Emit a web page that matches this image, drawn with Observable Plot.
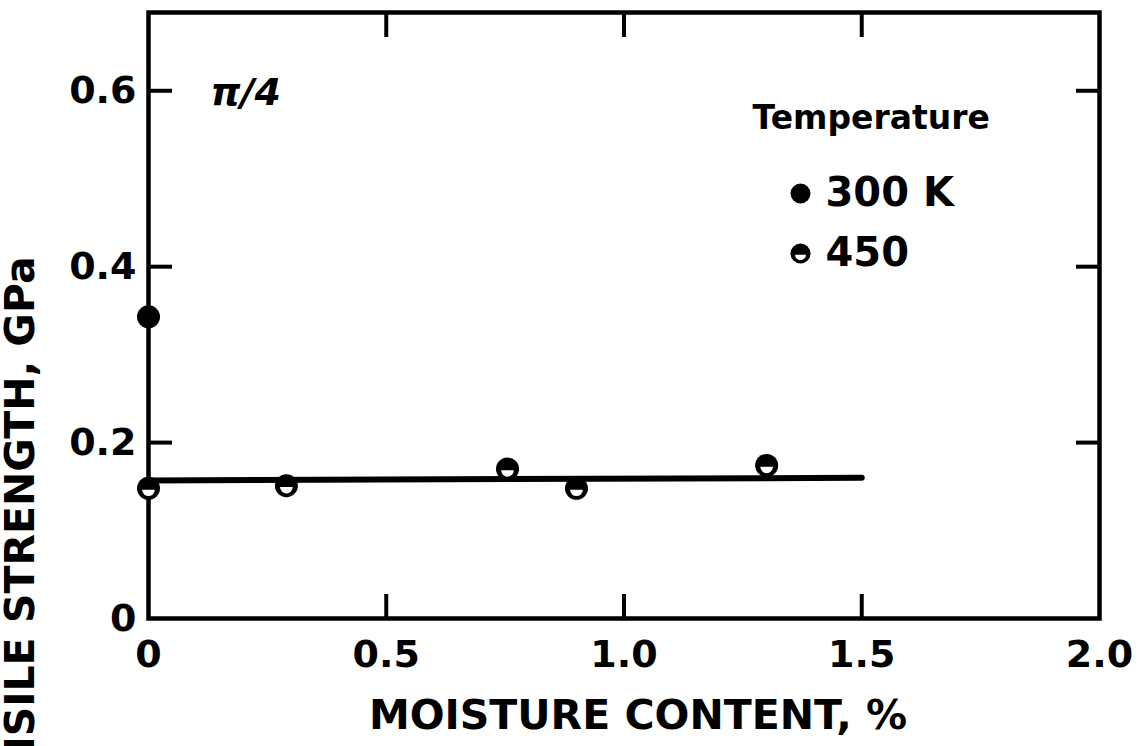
<!DOCTYPE html>
<html><head><meta charset="utf-8">
<script src="https://cdn.jsdelivr.net/npm/d3@7"></script>
<script src="https://cdn.jsdelivr.net/npm/@observablehq/plot@0.6"></script>
<style>html,body{margin:0;padding:0;background:#fff;overflow:hidden} svg{display:block}</style>
</head><body><div id="chart"></div>
<script>
// ---- data ----
const xTickValues = [0, 0.5, 1.0, 1.5, 2.0];
const xTickLabels = ["0", "0.5", "1.0", "1.5", "2.0"];
const xInnerTicks = [0.5, 1.0, 1.5];
const yTickValues = [0, 0.2, 0.4, 0.6];
const yTickLabels = ["0", "0.2", "0.4", "0.6"];
const yInnerTicks = [0.2, 0.4, 0.6];

const moisture300K = [0];
const strength300K = [0.343];
const moisture450K = [0, 0.29, 0.755, 0.90, 1.30];
const strength450K = [0.148, 0.151, 0.170, 0.148, 0.174];
const fitMoisture = [0, 1.5];
const fitStrength = [0.157, 0.160];

const legendTitle = "Temperature";
const legendLabels = ["300 K", "450"];
const panelLabel = "π/4";
const xTitle = "MOISTURE CONTENT, %";
const yTitle = "TENSILE STRENGTH, GPa";

// ---- build tables ----
const pts300 = moisture300K.map((x, i) => ({x, y: strength300K[i]}));
const pts450 = moisture450K.map((x, i) => ({x, y: strength450K[i]}));
const fit = fitMoisture.map((x, i) => ({x, y: fitStrength[i]}));

// lower half-disk "hole" symbol for the 450 K markers
const halfHole = {
  draw(ctx, size) {
    const r = Math.sqrt(size / Math.PI);
    const h = r * 0.55, c = r * 0.12;
    ctx.moveTo(h, c);
    ctx.arc(0, c, h, 0, Math.PI);
    ctx.closePath();
  }
};

const font = "DejaVu Sans";
const W = 1146, H = 746;
const mL = 148, mR = 47, mT = 12, mB = 128;

const chart = Plot.plot({
  width: W, height: H,
  marginLeft: mL, marginRight: mR, marginTop: mT, marginBottom: mB,
  style: {fontFamily: font, fontWeight: "bold", color: "#000", background: "#fff"},
  x: {domain: [0, 2.0]},
  y: {domain: [0, 0.689]},
  marks: [
    // inward ticks on all four sides
    Plot.axisX(xInnerTicks, {anchor: "bottom", tickSize: -24, strokeWidth: 4, tickFormat: () => "", label: null}),
    Plot.axisX(xInnerTicks, {anchor: "top", tickSize: -24, strokeWidth: 4, tickFormat: () => "", label: null}),
    Plot.axisY(yInnerTicks, {anchor: "left", tickSize: -24, strokeWidth: 4, tickFormat: () => "", label: null}),
    Plot.axisY(yInnerTicks, {anchor: "right", tickSize: -24, strokeWidth: 4, tickFormat: () => "", label: null}),
    // tick labels
    Plot.axisX(xTickValues, {anchor: "bottom", tickSize: 0, tickPadding: 22, fontSize: 38, fontWeight: "bold",
      tickFormat: d => xTickLabels[xTickValues.indexOf(d)], label: null}),
    Plot.axisY(yTickValues, {anchor: "left", tickSize: 0, tickPadding: 12, fontSize: 38, fontWeight: "bold",
      tickFormat: d => yTickLabels[yTickValues.indexOf(d)], label: null}),
    Plot.frame({stroke: "#000", strokeWidth: 4.5}),
    // axis titles
    Plot.text([xTitle], {frameAnchor: "bottom", dx: 14, dy: 97, fontSize: 41, fontWeight: "bold", lineAnchor: "middle", textAnchor: "middle"}),
    Plot.text([yTitle], {frameAnchor: "left", rotate: -90, dx: -128, dy: 226, fontSize: 41, fontWeight: "bold", lineAnchor: "middle", textAnchor: "middle"}),
    // fitted line
    Plot.line(fit, {x: "x", y: "y", stroke: "#000", strokeWidth: 6}),
    // data
    Plot.dot(pts300, {x: "x", y: "y", r: 11.5, fill: "#000", stroke: null}),
    Plot.dot(pts450, {x: "x", y: "y", r: 11.5, fill: "#000", stroke: null}),
    Plot.dot(pts450, {x: "x", y: "y", r: 11.5, fill: "#fff", stroke: null, symbol: halfHole}),
    // panel label
    Plot.text([panelLabel], {frameAnchor: "top-left", dx: 62, dy: 80, textAnchor: "start", fontSize: 38, fontWeight: "bold", fontStyle: "italic", lineAnchor: "middle"}),
    // legend
    Plot.text([legendTitle], {frameAnchor: "top-left", dx: 604, dy: 106, textAnchor: "start", fontSize: 33, fontWeight: "bold", lineAnchor: "middle"}),
    Plot.dot([legendLabels[0]], {frameAnchor: "top-left", dx: 652, dy: 181, r: 10, fill: "#000", stroke: null}),
    Plot.text([legendLabels[0]], {frameAnchor: "top-left", dx: 677, dy: 181, textAnchor: "start", fontSize: 40, fontWeight: "bold", lineAnchor: "middle"}),
    Plot.dot([legendLabels[1]], {frameAnchor: "top-left", dx: 652, dy: 241, r: 10, fill: "#000", stroke: null}),
    Plot.dot([legendLabels[1]], {frameAnchor: "top-left", dx: 652, dy: 241, r: 10, fill: "#fff", stroke: null, symbol: halfHole}),
    Plot.text([legendLabels[1]], {frameAnchor: "top-left", dx: 677, dy: 241, textAnchor: "start", fontSize: 40, fontWeight: "bold", lineAnchor: "middle"})
  ]
});
document.getElementById("chart").append(chart);
</script>
</body></html>
